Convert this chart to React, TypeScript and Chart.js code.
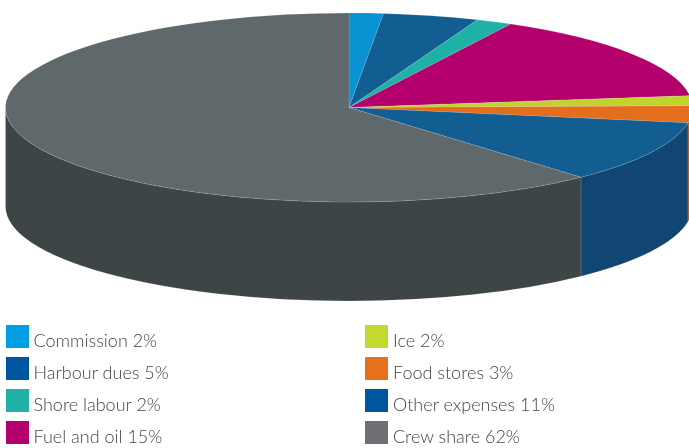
import React, { useEffect, useRef } from "react";
import { Chart, registerables } from "chart.js";

Chart.register(...registerables);

const categories = ["Commission", "Harbour dues", "Shore labour", "Fuel and oil", "Ice", "Food stores", "Other expenses", "Crew share"];
const legendPercents = [2, 5, 2, 15, 2, 3, 11, 62];
const sliceValues = [1.6, 4.5, 1.7, 15.2, 1.7, 2.9, 10.6, 61.8];
const topColors = ["#0A93D3", "#125E92", "#20B1A6", "#B4006D", "#BFD52D", "#E36F1E", "#125E92", "#5F696B"];
const wallColors = ["#076A98", "#0D4369", "#167F77", "#82004E", "#8A9A20", "#A35016", "#114672", "#3D4546"];
const swatchColors = ["#009FE3", "#0055A0", "#20B2A6", "#B5006F", "#C4D92E", "#E6711D", "#0055A0", "#6F6F74"];

const CENTER_X = 349;
const CENTER_Y = 107.5;
const RADIUS = 343.5;
const RADIUS_Y = 94.5;
const DEPTH = 99;

const pie3d = {
  id: "pie3d",
  beforeDatasetsDraw(chart: any) {
    const ctx = chart.ctx;
    const arcs = chart.getDatasetMeta(0).data;
    ctx.save();
    // Side walls: only the front half of the rim faces the viewer.
    arcs.forEach((arc: any, i: number) => {
      const { startAngle, endAngle } = arc.getProps(["startAngle", "endAngle"], true);
      const norm = (a: number) => {
        const t = Math.PI * 2;
        return ((a % t) + t) % t;
      };
      const s = norm(startAngle);
      const e = s + (endAngle - startAngle);
      const ranges: [number, number][] = [];
      const a1 = Math.max(s, 0), b1 = Math.min(e, Math.PI);
      if (b1 > a1) ranges.push([a1, b1]);
      const a2 = Math.max(s, Math.PI * 2), b2 = Math.min(e, Math.PI * 3);
      if (b2 > a2) ranges.push([a2, b2]);
      ranges.forEach(([a, b]) => {
        ctx.beginPath();
        ctx.ellipse(CENTER_X, CENTER_Y, RADIUS, RADIUS_Y, 0, a, b, false);
        ctx.ellipse(CENTER_X, CENTER_Y + DEPTH, RADIUS, RADIUS_Y, 0, b, a, true);
        ctx.closePath();
        ctx.fillStyle = wallColors[i];
        ctx.fill();
        ctx.strokeStyle = "rgba(255,255,255,0.22)";
        ctx.lineWidth = 0.6;
        ctx.stroke();
      });
    });
    ctx.restore();
    // Squash the flat pie into the ellipse of the top face.
    ctx.save();
    const first = arcs[0];
    const ky = RADIUS_Y / RADIUS;
    ctx.translate(CENTER_X, CENTER_Y);
    ctx.scale(1, ky);
    ctx.translate(-first.x, -first.y);
  },
  afterDatasetsDraw(chart: any) {
    chart.ctx.restore();
  },
};

export default function App() {
  const ref = useRef<HTMLCanvasElement | null>(null);
  useEffect(() => {
    if (!ref.current) return;
    const chart = new Chart(ref.current, {
      type: "pie",
      data: {
        labels: categories,
        datasets: [
          {
            data: sliceValues,
            backgroundColor: topColors,
            borderColor: "rgba(255,255,255,0.3)",
            borderWidth: 0.6,
            radius: RADIUS,
            clip: false,
          } as any,
        ],
      },
      options: {
        responsive: false,
        animation: false,
        events: [],
        layout: { padding: 0 },
        plugins: { legend: { display: false }, tooltip: { enabled: false }, title: { display: false } },
      },
      plugins: [pie3d],
    });
    return () => chart.destroy();
  }, []);

  const rowOf = (i: number) => i % 4;
  return (
    <div style={{ position: "absolute", left: 0, top: 0, width: 689, height: 448, overflow: "hidden", background: "#fff" }}>
      <canvas ref={ref} width={689} height={448} style={{ position: "absolute", left: 0, top: 0, display: "block" }} />
      {categories.map((c, i) => {
        const col = i < 4 ? 0 : 1;
        const top = 325 + rowOf(i) * 32;
        return (
          <React.Fragment key={c}>
            <div style={{ position: "absolute", left: col ? 365 : 6, top, width: 23, height: 23, background: swatchColors[i] }} />
            <div
              style={{
                position: "absolute",
                left: col ? 393 : 33.5,
                top: top + 3,
                height: 24,
                lineHeight: "24px",
                fontFamily: "Lato, sans-serif",
                fontWeight: 300,
                fontSize: 18,
                color: "#444",
                whiteSpace: "nowrap",
              }}
            >
              {`${c} ${legendPercents[i]}%`}
            </div>
          </React.Fragment>
        );
      })}
    </div>
  );
}
